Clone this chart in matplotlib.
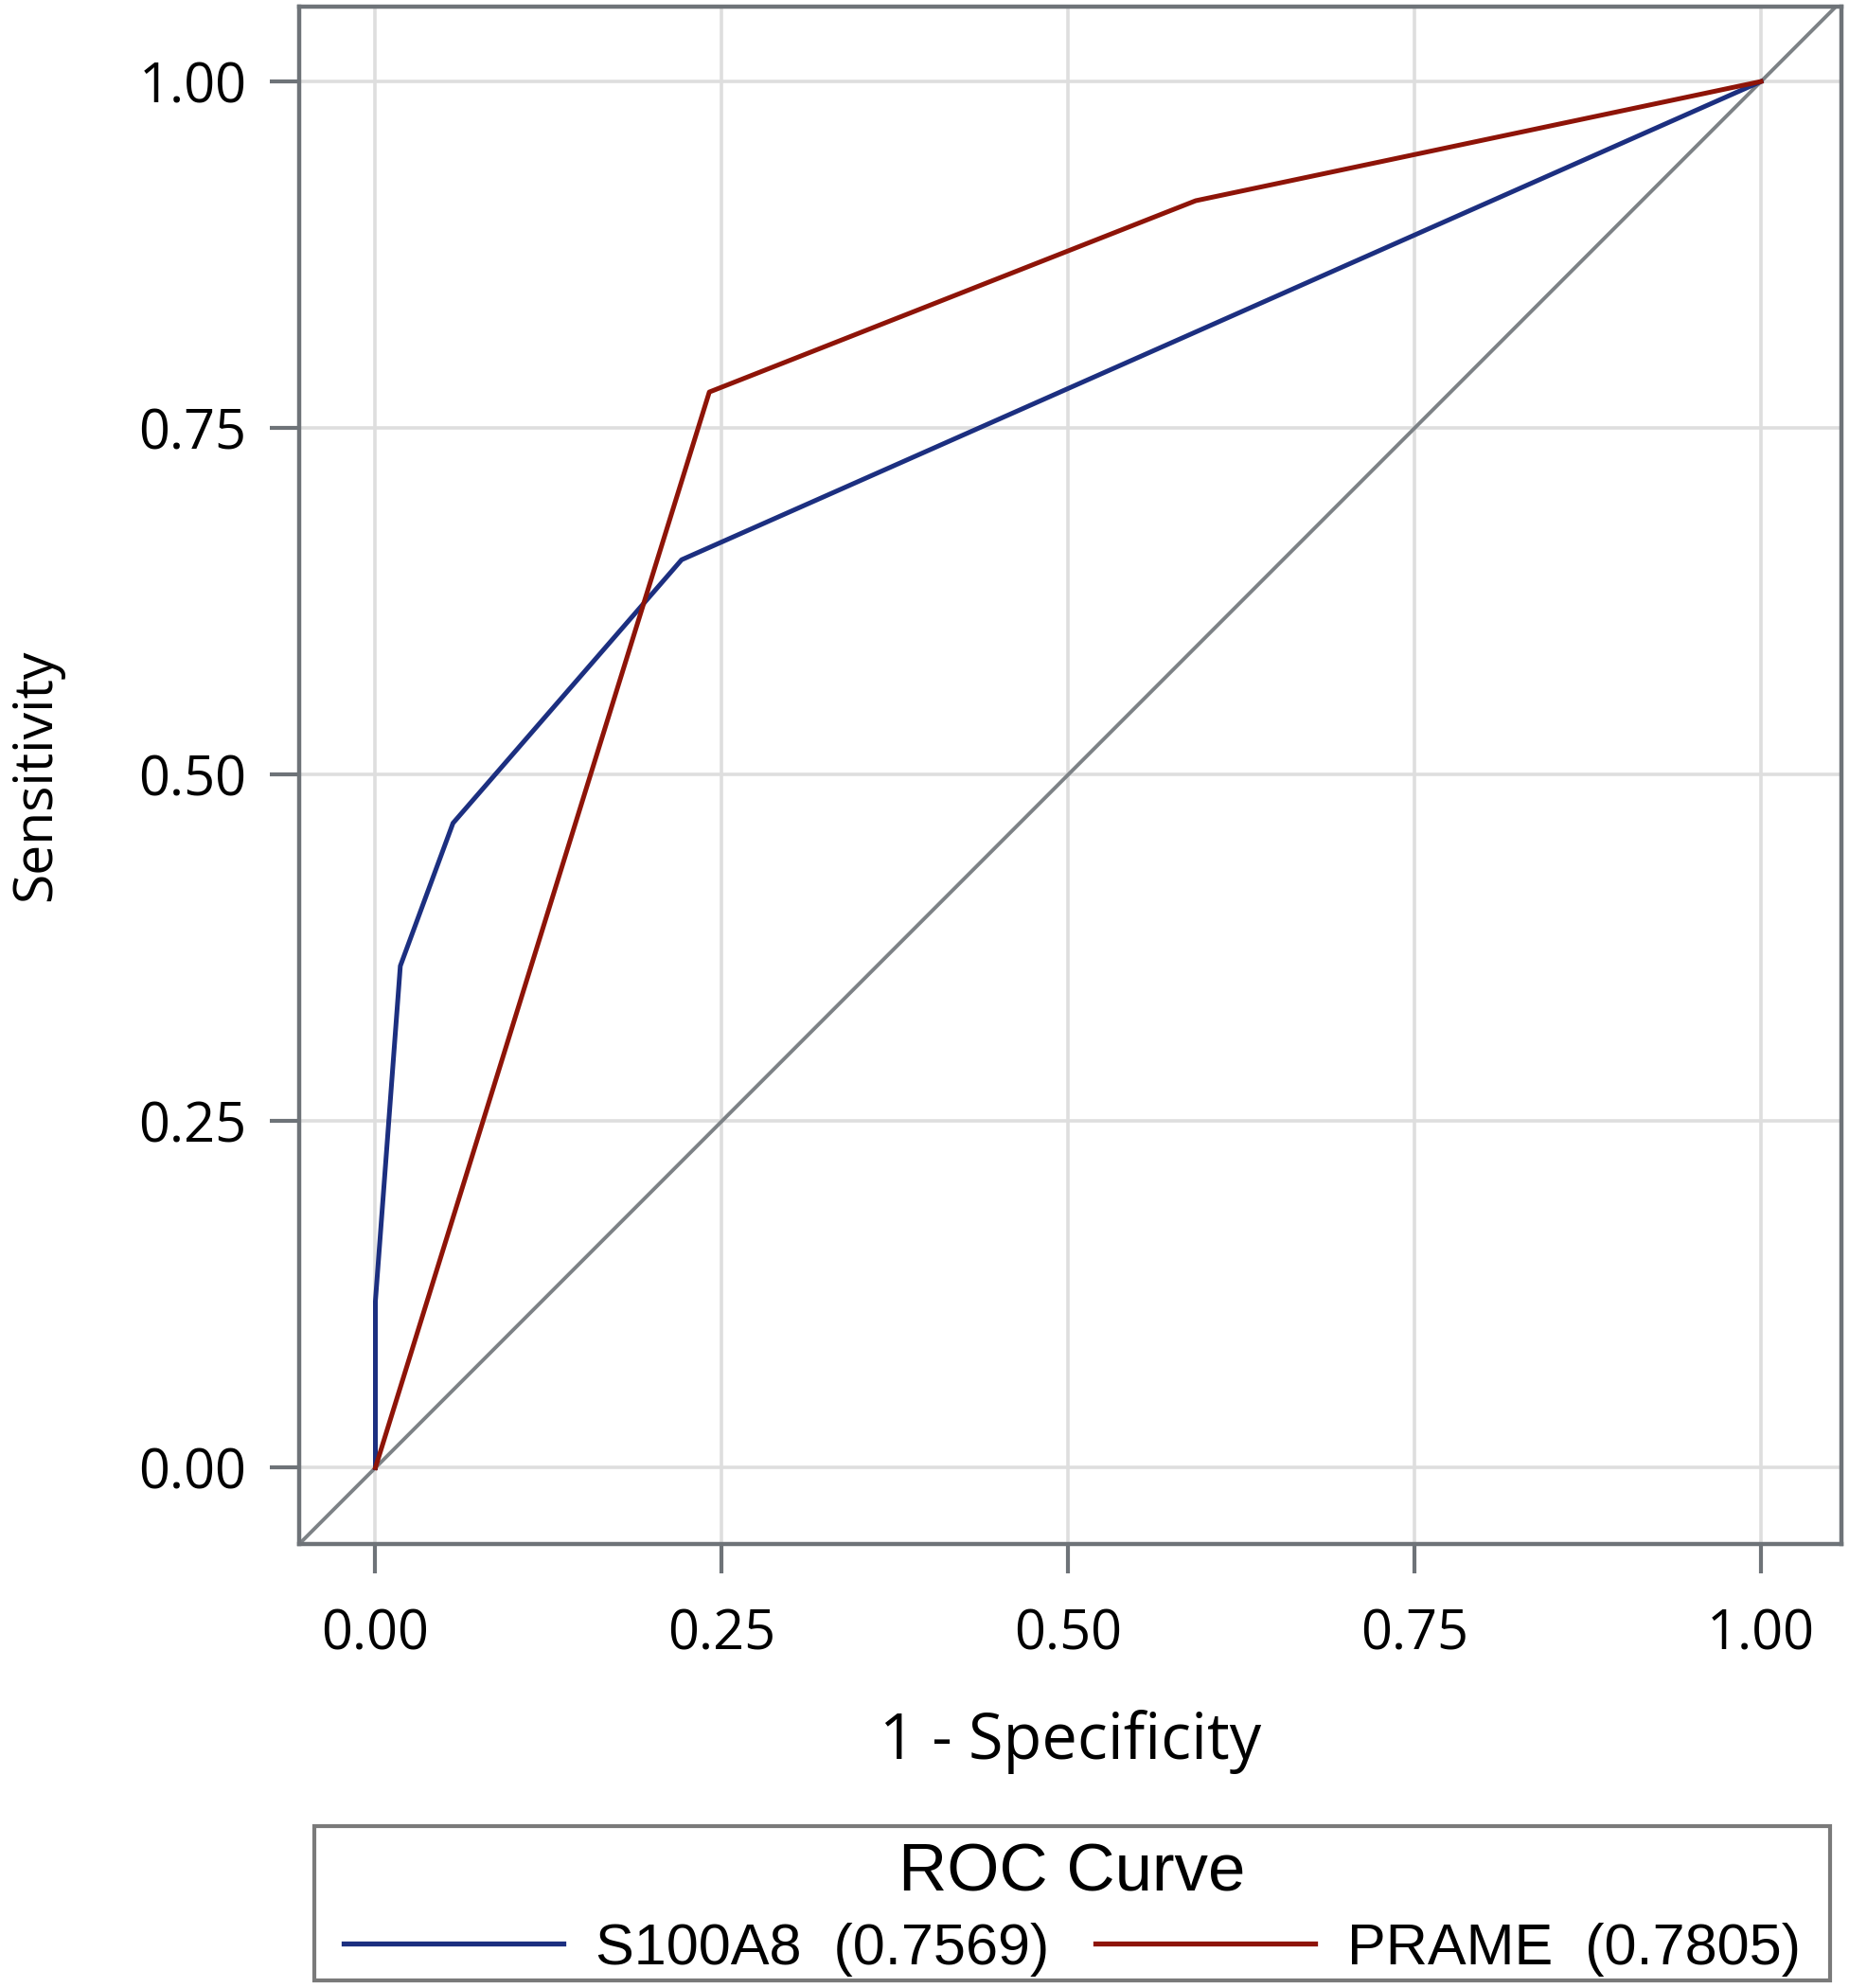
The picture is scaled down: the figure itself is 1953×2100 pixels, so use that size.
import matplotlib
matplotlib.use('Agg')
from matplotlib import pyplot as plt
from matplotlib.lines import Line2D
from matplotlib.patches import Rectangle

s100a8_fpr = [0.0, 0.0, 0.018, 0.056, 0.221, 1.0]
s100a8_tpr = [0.0, 0.12, 0.362, 0.465, 0.655, 1.0]
prame_fpr = [0.0, 0.241, 0.592, 1.0]
prame_tpr = [0.0, 0.776, 0.914, 1.0]
labels = ['S100A8  (0.7569)', 'PRAME  (0.7805)']
ticks = [0.0, 0.25, 0.5, 0.75, 1.0]
tick_labels = ['0.00', '0.25', '0.50', '0.75', '1.00']

blue = '#1c2f80'
red = '#8e1408'
frame = '#6e7378'

fig = plt.figure(figsize=(19.53, 21.0), dpi=100)
ax = fig.add_axes([316 / 1953, 1 - 1631 / 2100, (1945 - 316) / 1953, (1631 - 7) / 2100])

ax.axline((0, 0), (1, 1), color='#7d8286', lw=2.8, zorder=2)
ax.plot(s100a8_fpr, s100a8_tpr, color=blue, lw=3.6, zorder=3)
ax.plot(prame_fpr, prame_tpr, color=red, lw=3.6, zorder=3)

ax.set_xlim(-0.055, 1.058)
ax.set_ylim(-0.055, 1.054)
ax.set_xticks(ticks)
ax.set_xticklabels(tick_labels)
ax.set_yticks(ticks)
ax.set_yticklabels(tick_labels)
ax.grid(True, color='#dedede', lw=2.6, zorder=0)
ax.set_axisbelow(True)
for sp in ax.spines.values():
    sp.set_color(frame)
    sp.set_linewidth(3.2)
ax.tick_params(axis='both', direction='out', length=22, width=3, color=frame,
               labelsize=41.5, pad=18)
ax.tick_params(axis='x', pad=26)
for lab in ax.get_xticklabels() + ax.get_yticklabels():
    lab.set_family('Open Sans')

ax.set_xlabel('1 - Specificity', fontsize=48, family='Open Sans', labelpad=36)
ax.set_ylabel('Sensitivity', fontsize=41, family='Open Sans', labelpad=57)

# legend box
fig.patches.append(Rectangle((332 / 1953, 1 - 2092 / 2100), (1933 - 332) / 1953, (2092 - 1929) / 2100,
                             transform=fig.transFigure, fill=False, edgecolor='#7a7a7a', lw=3))

handles = [Line2D([], [], color=blue, lw=3.8), Line2D([], [], color=red, lw=3.8)]
leg = fig.legend(handles, labels, loc='center',
                 bbox_to_anchor=((332 + 1933) / 2 / 1953, 1 - 2017 / 2100),
                 ncol=2, title='ROC Curve', handlelength=3.8,
                 prop={'family': 'Liberation Sans', 'size': 44},
                 title_fontproperties={'family': 'Liberation Sans', 'size': 51},
                 frameon=False, borderaxespad=0, borderpad=0, labelspacing=0.3,
                 handletextpad=0.55, columnspacing=0.8)

fig.savefig('out.png', dpi=100)
